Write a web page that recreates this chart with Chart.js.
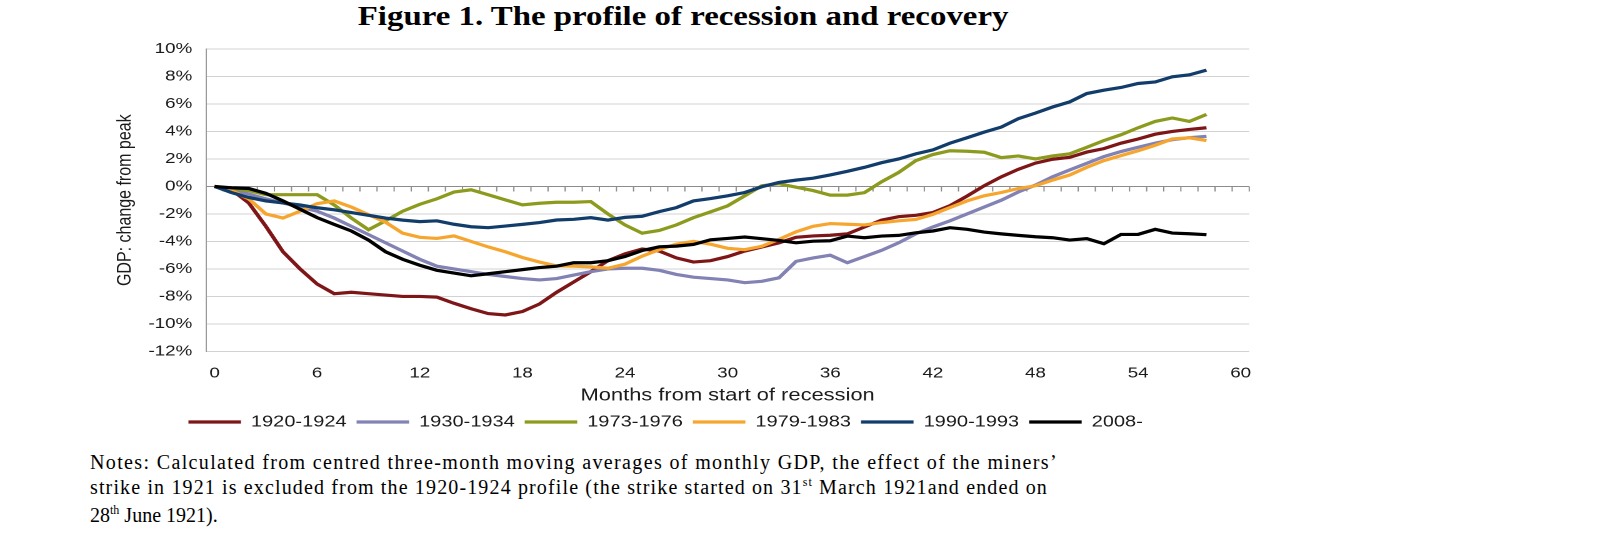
<!DOCTYPE html>
<html>
<head>
<meta charset="utf-8">
<script src="https://cdn.jsdelivr.net/npm/chart.js@4/dist/chart.umd.min.js"></script>
<style>
  html, body { margin: 0; padding: 0; background: #fff; width: 1600px; height: 538px; overflow: hidden; }
  #title { position: absolute; left: 0; top: 0px; width: 1366px; text-align: center; }
  #title span { display: inline-block; font: bold 28px 'Liberation Serif', 'Times New Roman', serif; color: #000;
                white-space: nowrap; transform: scaleX(1.174); transform-origin: 50% 50%; }
  #wrap { position: absolute; left: 0; top: 0; width: 1065px; height: 440px;
          transform: scaleX(1.25); transform-origin: 0 0; }
  #notes { position: absolute; left: 90px; top: 450px; font: 20px 'Liberation Serif', 'Times New Roman', serif;
           line-height: 25px; color: #000; }
  #notes div { white-space: nowrap; width: max-content; }
  .sup { font-size: 12px; position: relative; top: -8px; }
</style>
</head>
<body>
<div id="title"><span>Figure 1. The profile of recession and recovery</span></div>
<div id="wrap"><canvas id="c" width="1065" height="440"></canvas></div>
<div id="notes">
  <div class="fit" data-w="968">Notes: Calculated from centred three-month moving averages of monthly GDP, the effect of the miners’</div>
  <div class="fit" data-w="958">strike in 1921 is excluded from the 1920-1924 profile (the strike started on 31<span class="sup">st</span> March 1921and ended on</div>
  <div>28<span class="sup">th</span> June 1921).</div>
</div>
<script>
// ---- data ----
const months = ['0','1','2','3','4','5','6','7','8','9','10','11','12','13','14','15','16','17','18','19','20',
  '21','22','23','24','25','26','27','28','29','30','31','32','33','34','35','36','37','38','39','40',
  '41','42','43','44','45','46','47','48','49','50','51','52','53','54','55','56','57','58','59','60'];
const xTickLabels = ['0','6','12','18','24','30','36','42','48','54','60'];
const yTickValues = [-12, -10, -8, -6, -4, -2, 0, 2, 4, 6, 8, 10];
const seriesNames = ['1920-1924', '1930-1934', '1973-1976', '1979-1983', '1990-1993', '2008-'];

const r1920 = [0, -0.25, -1.2, -2.9, -4.75, -6.0, -7.1, -7.8, -7.7, -7.8,
  -7.9, -8.0, -8.0, -8.05, -8.5, -8.9, -9.25, -9.35, -9.1, -8.55,
  -7.7, -6.95, -6.2, -5.4, -4.9, -4.55, -4.7, -5.2, -5.5, -5.4,
  -5.1, -4.7, -4.4, -4.1, -3.7, -3.6, -3.55, -3.45, -2.95, -2.45,
  -2.2, -2.1, -1.9, -1.4, -0.7, 0.05, 0.7, 1.25, 1.7, 1.98,
  2.12, 2.5, 2.75, 3.15, 3.45, 3.8, 4.0, 4.15, 4.27];
const p1930 = [0, -0.2, -0.55, -0.9, -1.2, -1.5, -1.8, -2.3, -2.9, -3.5,
  -4.1, -4.7, -5.3, -5.8, -6.0, -6.2, -6.4, -6.55, -6.7, -6.8,
  -6.7, -6.45, -6.2, -6.0, -5.95, -5.95, -6.1, -6.4, -6.6, -6.7,
  -6.8, -7.0, -6.9, -6.65, -5.45, -5.2, -5.0, -5.55, -5.1, -4.65,
  -4.1, -3.45, -2.95, -2.5, -2.0, -1.5, -1.0, -0.4, 0.1, 0.7,
  1.2, 1.68, 2.17, 2.54, 2.85, 3.15, 3.4, 3.55, 3.65];
const g1973 = [0, -0.15, -0.3, -0.6, -0.6, -0.6, -0.6, -1.35, -2.3, -3.15,
  -2.5, -1.8, -1.3, -0.9, -0.41, -0.24, -0.6, -0.98, -1.34, -1.22,
  -1.15, -1.15, -1.1, -2.0, -2.8, -3.4, -3.2, -2.8, -2.27, -1.85,
  -1.41, -0.68, 0.05, 0.2, -0.05, -0.3, -0.63, -0.63, -0.45, 0.34,
  1.02, 1.88, 2.32, 2.6, 2.56, 2.49, 2.1, 2.22, 2.0, 2.22,
  2.37, 2.85, 3.34, 3.76, 4.27, 4.73, 4.98, 4.73, 5.24];
const o1979 = [0, -0.3, -0.9, -2.0, -2.3, -1.8, -1.25, -1.05, -1.5, -2.05,
  -2.6, -3.4, -3.7, -3.78, -3.6, -4.0, -4.4, -4.75, -5.17, -5.5,
  -5.78, -5.8, -5.85, -5.95, -5.65, -5.07, -4.6, -4.2, -4.0, -4.2,
  -4.5, -4.6, -4.35, -3.85, -3.3, -2.9, -2.7, -2.75, -2.8, -2.63,
  -2.5, -2.4, -2.03, -1.54, -1.05, -0.68, -0.44, -0.15, 0.05, 0.46,
  0.83, 1.39, 1.88, 2.24, 2.6, 3.0, 3.46, 3.54, 3.34];
const b1990 = [0, -0.45, -0.8, -1.05, -1.2, -1.35, -1.55, -1.7, -1.9, -2.1,
  -2.3, -2.45, -2.56, -2.5, -2.75, -2.93, -3.0, -2.88, -2.76, -2.63,
  -2.44, -2.39, -2.27, -2.45, -2.25, -2.17, -1.83, -1.54, -1.05, -0.88,
  -0.68, -0.44, -0.02, 0.29, 0.46, 0.6, 0.84, 1.1, 1.39, 1.73,
  2.0, 2.37, 2.66, 3.15, 3.54, 3.95, 4.32, 4.93, 5.34, 5.78,
  6.15, 6.76, 7.0, 7.2, 7.49, 7.6, 7.98, 8.12, 8.46];
const k2008 = [0, -0.1, -0.15, -0.5, -1.05, -1.66, -2.27, -2.76, -3.24, -3.9,
  -4.75, -5.3, -5.73, -6.1, -6.3, -6.5, -6.35, -6.2, -6.05, -5.9,
  -5.8, -5.55, -5.55, -5.4, -5.1, -4.66, -4.39, -4.34, -4.22, -3.88,
  -3.78, -3.68, -3.8, -3.93, -4.1, -3.98, -3.95, -3.61, -3.73, -3.61,
  -3.56, -3.37, -3.24, -3.0, -3.12, -3.32, -3.45, -3.56, -3.66, -3.73,
  -3.9, -3.8, -4.17, -3.49, -3.49, -3.12, -3.39, -3.44, -3.51];

const seriesValues = [r1920, p1930, g1973, o1979, b1990, k2008];
const seriesColors = ['#7e1618', '#8282b4', '#8c9b1e', '#f6a62e', '#123d6b', '#000000'];

// ---- notes: spread the two full lines to their measured width ----
document.querySelectorAll('.fit').forEach(el => {
  const target = +el.dataset.w;
  const natural = el.getBoundingClientRect().width;
  const chars = el.textContent.replace(/\s+/g, ' ').trim().length;
  if (natural < target && chars > 1) el.style.letterSpacing = ((target - natural) / chars) + 'px';
});

// ---- zero axis with month tick marks ----
const zeroAxis = {
  id: 'zeroAxis',
  beforeDatasetsDraw(chart) {
    const { ctx, chartArea: ca, scales: { x, y } } = chart;
    const y0 = Math.round(y.getPixelForValue(0)) + 0.5;
    ctx.save();
    ctx.strokeStyle = '#8c8c8c';
    ctx.lineWidth = 1;
    ctx.beginPath();
    ctx.moveTo(ca.left, y0);
    ctx.lineTo(ca.right, y0);
    const n = months.length;
    for (let i = 0; i < n; i++) {
      const px = i < n - 1 ? (x.getPixelForValue(i) + x.getPixelForValue(i + 1)) / 2 : ca.right;
      ctx.moveTo(px, y0);
      ctx.lineTo(px, y0 + 5);
    }
    ctx.stroke();
    ctx.restore();
  }
};

const FONT = "'Liberation Sans', Arial, sans-serif";

new Chart(document.getElementById('c'), {
  type: 'line',
  data: {
    labels: months,
    datasets: seriesNames.map((name, i) => ({
      label: name,
      data: seriesValues[i],
      borderColor: seriesColors[i],
      backgroundColor: seriesColors[i],
      borderWidth: 3.2,
      pointRadius: 0,
      tension: 0,
      fill: false,
      order: seriesNames.length - i
    }))
  },
  options: {
    responsive: false,
    animation: false,
    devicePixelRatio: 2,
    layout: { padding: { left: 65.6, right: 65.6, top: 49, bottom: 0 } },
    plugins: {
      title: { display: false },
      tooltip: { enabled: false },
      legend: {
        position: 'bottom',
        labels: {
          usePointStyle: true,
          pointStyle: 'line',
          pointStyleWidth: 42,
          boxHeight: 16,
          padding: 8,
          color: '#1a1a1a',
          font: { family: FONT, size: 16 },
          sort: (a, b) => a.datasetIndex - b.datasetIndex
        }
      }
    },
    scales: {
      x: {
        type: 'category',
        offset: true,
        grid: { display: false, drawTicks: false },
        border: { display: false },
        afterFit: (s) => { s.height = 54.6; },
        ticks: {
          autoSkip: false,
          maxRotation: 0,
          padding: 13,
          color: '#1a1a1a',
          font: { family: FONT, size: 15 },
          callback: function (val) {
            const lab = this.getLabelForValue(val);
            return xTickLabels.includes(lab) ? lab : null;
          }
        },
        title: {
          display: true,
          text: 'Months from start of recession',
          color: '#1a1a1a',
          font: { family: FONT, size: 17.5 },
          padding: { top: 0, bottom: 0 }
        }
      },
      y: {
        min: -12,
        max: 10,
        afterBuildTicks: (s) => { s.ticks = yTickValues.map(v => ({ value: v })); },
        afterFit: (s) => { s.width = 99.2; },
        grid: { color: '#d2d2d2', lineWidth: 1, drawTicks: false },
        border: { display: true, color: '#9a9a9a', width: 1 },
        ticks: {
          padding: 11,
          color: '#1a1a1a',
          font: { family: FONT, size: 15 },
          callback: (v) => v + '%'
        },
        title: {
          display: true,
          text: 'GDP: change from peak',
          color: '#1a1a1a',
          font: { family: FONT, size: 16 },
          padding: { top: 24.8, bottom: 0 }
        }
      }
    }
  },
  plugins: [zeroAxis]
});
</script>
</body>
</html>
